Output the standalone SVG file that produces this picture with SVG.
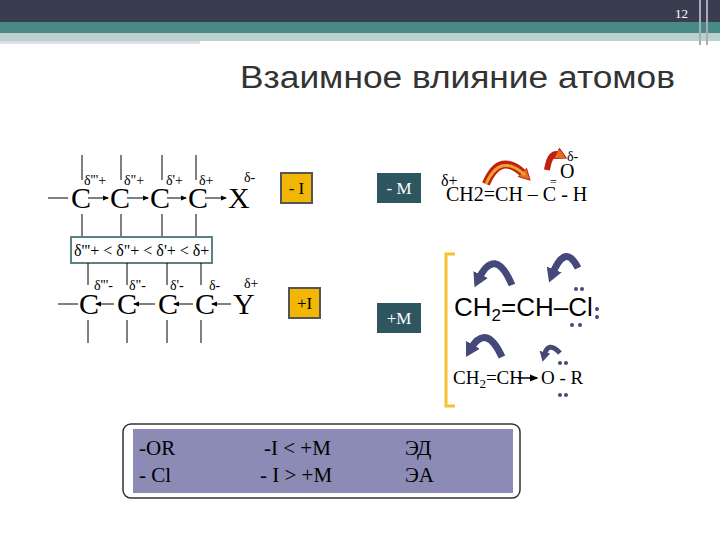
<svg xmlns="http://www.w3.org/2000/svg" width="720" height="540" viewBox="0 0 720 540">
<defs>
<marker id="a" markerWidth="6" markerHeight="6" refX="5" refY="3" orient="auto"><path d="M0,0.5 L6,3 L0,5.5z" fill="#000"/></marker>
<marker id="b" markerUnits="userSpaceOnUse" markerWidth="16" markerHeight="16" refX="6" refY="8" orient="auto"><path d="M0,0 L14,8 L0,16z" fill="#44497a"/></marker>
<marker id="bs" markerUnits="userSpaceOnUse" markerWidth="11" markerHeight="11" refX="4" refY="5.5" orient="auto"><path d="M0,0 L10,5.5 L0,11z" fill="#44497a"/></marker>
<marker id="r" markerUnits="userSpaceOnUse" markerWidth="12" markerHeight="12" refX="4" refY="6" orient="auto"><path d="M0,0 L11,6 L0,12z" fill="#e07020" stroke="#c02010" stroke-width="1"/></marker>
</defs>
<style>
.s{font-family:"Liberation Serif",serif;fill:#000}
.big{font-size:30px}
.d{font-size:14px}
.v{stroke:#000;stroke-width:1}
.ob{fill:#f2b705;stroke:#555;stroke-width:2}
.tb{fill:#2d5660}
.blue{fill:none;stroke:#44497a;stroke-width:7}
</style>
<rect width="720" height="540" fill="#fff"/>
<g id="header">
<rect x="0" y="0" width="720" height="22" fill="#3a3d50"/>
<rect x="0" y="22" width="720" height="11" fill="#4a8a86"/>
<rect x="0" y="33" width="720" height="8" fill="#b9d0cc"/>
<rect x="0" y="41" width="200" height="3" fill="#dde"/>
<line x1="700" y1="0" x2="700" y2="45" stroke="#aab" stroke-width="2"/>
<line x1="707" y1="0" x2="707" y2="45" stroke="#aab" stroke-width="2"/>
<text x="688" y="18" font-family="Liberation Serif,serif" font-size="13" fill="#fff" text-anchor="end">12</text>
<text x="240" y="88" font-family="Liberation Sans,sans-serif" font-size="31" fill="#333" textLength="435" lengthAdjust="spacingAndGlyphs">Взаимное влияние атомов</text>
</g>
<g id="chain1">
<line class="v" x1="82" y1="155" x2="82" y2="180"/><line class="v" x1="82" y1="214" x2="82" y2="237"/>
<line class="v" x1="121" y1="155" x2="121" y2="180"/><line class="v" x1="121" y1="214" x2="121" y2="237"/>
<line class="v" x1="162" y1="155" x2="162" y2="180"/><line class="v" x1="162" y1="214" x2="162" y2="237"/>
<line class="v" x1="196" y1="155" x2="196" y2="180"/><line class="v" x1="196" y1="214" x2="196" y2="237"/>
<line class="v" x1="48" y1="198" x2="68" y2="198"/>
<text class="s big" x="71" y="208">C</text><text class="s big" x="110" y="208">C</text><text class="s big" x="150" y="208">C</text><text class="s big" x="188" y="208">C</text><text class="s big" x="228" y="208">X</text>
<line class="v" x1="88" y1="198" x2="108" y2="198" marker-end="url(#a)"/>
<line class="v" x1="127" y1="198" x2="148" y2="198" marker-end="url(#a)"/>
<line class="v" x1="167" y1="198" x2="186" y2="198" marker-end="url(#a)"/>
<line class="v" x1="205" y1="198" x2="226" y2="198" marker-end="url(#a)"/>
<text class="s d" x="84" y="185">δ'''+</text><text class="s d" x="124" y="185">δ"+</text><text class="s d" x="166" y="185">δ'+</text><text class="s d" x="199" y="185">δ+</text><text class="s d" x="244" y="182">δ-</text>
</g>
<g id="order">
<rect x="71" y="237" width="141" height="26" fill="#fff" stroke="#5b8383" stroke-width="2"/>
<text class="s" x="74" y="256" font-size="16">δ'''+ &lt; δ"+ &lt; δ'+ &lt; δ+</text>
</g>
<g id="chain2">
<line class="v" x1="88" y1="263" x2="88" y2="285"/><line class="v" x1="88" y1="320" x2="88" y2="343"/>
<line class="v" x1="127" y1="263" x2="127" y2="285"/><line class="v" x1="127" y1="320" x2="127" y2="343"/>
<line class="v" x1="167" y1="263" x2="167" y2="285"/><line class="v" x1="167" y1="320" x2="167" y2="343"/>
<line class="v" x1="201" y1="263" x2="201" y2="285"/><line class="v" x1="201" y1="320" x2="201" y2="343"/>
<line class="v" x1="58" y1="304" x2="78" y2="304"/>
<text class="s big" x="79" y="314">C</text><text class="s big" x="117" y="314">C</text><text class="s big" x="158" y="314">C</text><text class="s big" x="195" y="314">C</text><text class="s big" x="233" y="314">Y</text>
<line class="v" x1="114" y1="304" x2="96" y2="304" marker-end="url(#a)"/>
<line class="v" x1="155" y1="304" x2="134" y2="304" marker-end="url(#a)"/>
<line class="v" x1="193" y1="304" x2="174" y2="304" marker-end="url(#a)"/>
<line class="v" x1="231" y1="304" x2="212" y2="304" marker-end="url(#a)"/>
<text class="s d" x="94" y="290">δ'''-</text><text class="s d" x="129" y="290">δ"-</text><text class="s d" x="170" y="290">δ'-</text><text class="s d" x="209" y="290">δ-</text><text class="s d" x="244" y="288">δ+</text>
</g>
<g id="minusI"><rect class="ob" x="281" y="173" width="31" height="30"/><text class="s" x="296.5" y="194" font-size="17" text-anchor="middle">- I</text></g>
<g id="plusI"><rect class="ob" x="289" y="288" width="31" height="30"/><text class="s" x="304.5" y="309" font-size="17" text-anchor="middle">+I</text></g>
<g id="minusM"><rect class="tb" x="377" y="173" width="44" height="30"/><text x="399" y="194" font-family="Liberation Serif,serif" font-size="17" fill="#fff" text-anchor="middle">- M</text></g>
<g id="plusM"><rect class="tb" x="377" y="303" width="44" height="30"/><text x="399" y="324" font-family="Liberation Serif,serif" font-size="17" fill="#fff" text-anchor="middle">+M</text></g>
<g id="acrolein">
<text class="s" x="446" y="201" font-size="20">CH2=CH – C - H</text>
<text class="s" x="441" y="186" font-size="16">δ+</text>
<text class="s" x="560" y="178" font-size="20">O</text>
<text class="s" x="550" y="186" font-size="12">=</text>
<text class="s d" x="567" y="161">δ-</text>
<path d="M486,184 Q500,150 525,175" fill="none" stroke="#c02010" stroke-width="8" marker-end="url(#r)"/>
<path d="M486,184 Q500,152 525,175" fill="none" stroke="#f0a030" stroke-width="3"/>
<path d="M547,170 Q550,150 560,155" fill="none" stroke="#c02010" stroke-width="6" marker-end="url(#r)"/>
</g>
<g id="bracket"><path d="M455,254 H446 V406 H455" fill="none" stroke="#f2c230" stroke-width="3"/></g>
<g id="vinylCl">
<text x="454" y="316" font-family="Liberation Sans,sans-serif" font-size="26" fill="#000">CH<tspan font-size="17" dy="5">2</tspan><tspan dy="-5">=CH–Cl</tspan></text>
<path d="M512,285 Q495,245 478,280" class="blue" marker-end="url(#b)"/>
<path d="M578,268 Q565,242 552,275" class="blue" marker-end="url(#b)"/>
<g fill="#44497a"><circle cx="576" cy="289" r="2"/><circle cx="582" cy="289" r="2"/><circle cx="597" cy="309" r="2"/><circle cx="597" cy="317" r="2"/><circle cx="572" cy="325" r="2"/><circle cx="580" cy="325" r="2"/></g>
</g>
<g id="vinylOR">
<text class="s" x="453" y="384" font-size="19">CH<tspan font-size="13" dy="4">2</tspan><tspan dy="-4">=CH</tspan></text>
<line x1="518" y1="378" x2="537" y2="378" stroke="#000" stroke-width="1.5" marker-end="url(#a)"/>
<text class="s" x="541" y="384" font-size="19">O  -  R</text>
<path d="M502,357 Q486,322 470,350" class="blue" marker-end="url(#b)"/>
<path d="M560,353 Q548,340 544,356" fill="none" stroke="#44497a" stroke-width="5" marker-end="url(#bs)"/>
<g fill="#44497a"><circle cx="560" cy="363" r="2"/><circle cx="566" cy="363" r="2"/><circle cx="560" cy="395" r="2"/><circle cx="566" cy="395" r="2"/></g>
</g>
<g id="summary">
<rect x="123" y="424" width="397" height="74" rx="8" fill="#fff" stroke="#333" stroke-width="1.5"/>
<rect x="133" y="429" width="380" height="64" fill="#8b8bb5"/>
<g class="s" font-size="21">
<text x="139" y="455">-OR</text><text x="139" y="482">- Cl</text>
<text x="264" y="455">-I &lt; +M</text><text x="260" y="482">- I &gt; +M</text>
<text x="405" y="455">ЭД</text><text x="405" y="482">ЭА</text>
</g>
</g>
</svg>
